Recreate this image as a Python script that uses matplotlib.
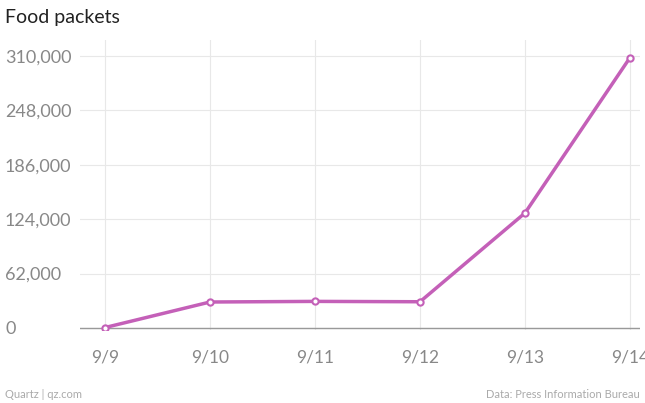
import matplotlib
matplotlib.use("Agg")
import matplotlib.pyplot as plt

dates = ["9/9", "9/10", "9/11", "9/12", "9/13", "9/14"]
packets = [500, 29600, 30300, 29900, 131000, 308000]
yticks = [0, 62000, 124000, 186000, 248000, 310000]
ylabels = ["0", "62,000", "124,000", "186,000", "248,000", "310,000"]

plt.rcParams['font.family'] = ['Lato', 'DejaVu Sans']
fig = plt.figure(figsize=(6.45, 4.03), dpi=100)
ax = fig.add_axes([80/645, 1-330/403, 560/645, 290/403])
x = list(range(len(dates)))
ax.plot(x, packets, color="#c460b8", lw=2.5, marker="o", ms=4.5,
        mfc="white", mec="#c460b8", mew=1.5, zorder=3)
ax.set_xlim(-0.238, 5.095)
ax.set_ylim(-2280, 328000)
ax.set_xticks(x)
ax.set_xticklabels(dates, fontsize=12.5, color="#888888")
ax.set_yticks(yticks)
ax.set_yticklabels(ylabels, fontsize=13, color="#888888", ha="left")
ax.tick_params(axis="y", length=0, pad=54)
ax.tick_params(axis="x", length=0, pad=14)
ax.grid(True, color="#e8e8e8", lw=0.8)
ax.axhline(0, color="#999999", lw=1, zorder=2)
for s in ax.spines.values():
    s.set_visible(False)
fig.text(5/645, 1-18/403, "Food packets", fontsize=14, color="#222222", va="center")
fig.text(5/645, 1-395/403, "Quartz | qz.com", fontsize=8, color="#aaaaaa", va="center")
fig.text(640/645, 1-395/403, "Data: Press Information Bureau", fontsize=8, color="#aaaaaa", va="center", ha="right")
fig.savefig("out.png", dpi=100)
